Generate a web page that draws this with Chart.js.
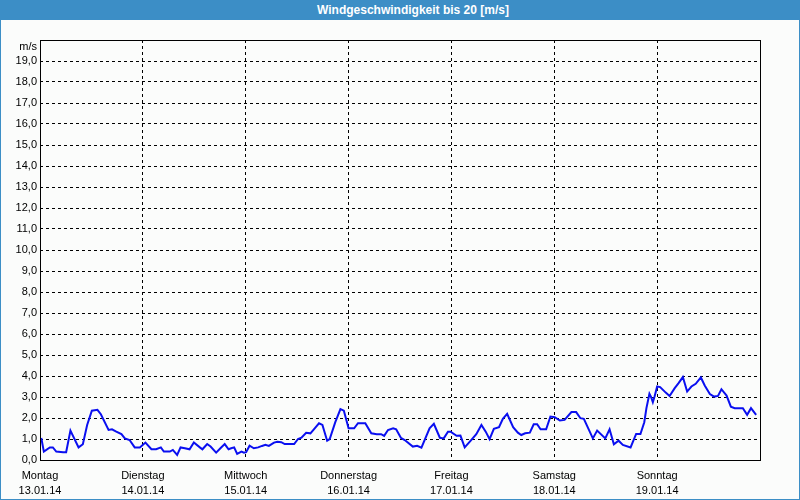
<!DOCTYPE html>
<html>
<head>
<meta charset="utf-8">
<script src="https://cdn.jsdelivr.net/npm/chart.js@4/dist/chart.umd.min.js"></script>
<style>
  body { margin: 0; background: #fff; }
  #frame {
    width: 800px; height: 500px; box-sizing: border-box;
    border: 1px solid #3c8ec6; border-top: none;
    background: #fbfcfb; position: relative;
  }
  #titlebar {
    height: 20px; margin: 0 -1px; background: #3c8ec6; color: #fff;
    font: bold 12px "Liberation Sans", Arial, sans-serif;
    line-height: 20px; text-align: center; padding-left: 26px;
  }
  #box { position: absolute; left: 0; top: 20px; width: 798px; height: 479px; }
</style>
</head>
<body>
<div id="frame">
  <div id="titlebar">Windgeschwindigkeit bis 20 [m/s]</div>
  <div id="box"><canvas id="wind-chart"></canvas></div>
</div>
<script>
// hours since Monday 13.01.14 00:00
const hours = [
  0.3, 0.9, 2.3, 3.0, 3.8, 5.4, 6.1, 7.1, 9.0, 10.0, 11.0, 12.1, 13.4, 14.2, 16.0, 16.8,
  17.8, 19.0, 19.8, 20.9, 22.1, 23.3, 24.6, 26.0, 27.1, 28.2, 28.9, 30.3, 31.0, 32.0, 32.8,
  33.8, 34.9, 35.9, 37.3, 37.9, 39.0, 39.8, 41.1, 42.1, 43.1, 44.0, 44.6, 45.3, 46.0, 47.0,
  47.6, 48.1, 48.9, 49.9, 50.9, 51.8, 52.6, 53.4, 54.6, 55.4, 56.3, 57.1, 59.3, 60.2, 61.0,
  62.1, 63.1, 64.1, 65.1, 65.9, 67.0, 67.6, 68.9, 70.1, 70.9, 72.0, 73.3, 74.2, 75.9, 77.3,
  78.6, 79.6, 80.3, 81.2, 82.4, 83.1, 84.2, 85.1, 87.0, 88.0, 89.0, 90.9, 91.9, 93.3, 94.2,
  95.2, 95.8, 97.2, 98.1, 99.1, 100.5, 101.8, 103.0, 104.0, 104.9, 105.9, 107.1, 108.0, 109.0,
  110.4, 111.5, 112.3, 113.2, 114.3, 115.2, 116.0, 116.8, 118.1, 119.1, 120.1, 121.3, 122.4,
  124.0, 125.1, 126.1, 126.9, 129.0, 130.0, 131.9, 132.9, 133.9, 135.0, 136.0, 137.8, 139.1,
  140.1, 141.0, 141.5, 142.2, 142.6, 143.0, 143.4, 144.0, 144.7, 146.0, 146.9, 148.1, 149.0,
  150.0, 151.0, 152.0, 153.0, 154.2, 155.1, 156.3, 157.3, 158.2, 159.0, 160.2, 161.2, 162.1,
  164.0, 165.0, 165.9, 167.1
];
// wind speed in m/s
const speed = [
  1.05, 0.40, 0.60, 0.60, 0.40, 0.37, 0.37, 1.40, 0.60, 0.75, 1.67, 2.35, 2.39, 2.18, 1.43, 1.46,
  1.35, 1.23, 1.03, 0.95, 0.60, 0.60, 0.83, 0.51, 0.51, 0.60, 0.40, 0.40, 0.48, 0.24, 0.60,
  0.56, 0.51, 0.83, 0.60, 0.51, 0.76, 0.64, 0.35, 0.56, 0.76, 0.51, 0.56, 0.60, 0.29, 0.40,
  0.35, 0.37, 0.68, 0.56, 0.60, 0.67, 0.72, 0.67, 0.83, 0.87, 0.85, 0.76, 0.76, 1.00, 1.06,
  1.30, 1.27, 1.51, 1.75, 1.67, 0.92, 1.00, 1.80, 2.42, 2.35, 1.51, 1.51, 1.75, 1.75, 1.27,
  1.23, 1.23, 1.15, 1.43, 1.51, 1.46, 1.06, 0.95, 0.64, 0.68, 0.59, 1.51, 1.72, 1.06, 1.03,
  1.35, 1.35, 1.15, 1.16, 0.60, 0.92, 1.23, 1.67, 1.35, 0.99, 1.48, 1.56, 1.96, 2.20,
  1.56, 1.30, 1.19, 1.27, 1.30, 1.70, 1.70, 1.46, 1.46, 2.07, 2.04, 1.88, 1.91,
  2.28, 2.28, 1.99, 1.96, 1.03, 1.40, 1.03, 1.46, 0.75, 0.92, 0.72, 0.60, 1.24,
  1.24, 1.80, 2.47, 3.15, 2.99, 2.75, 3.02, 3.50, 3.47, 3.21, 3.05, 3.42, 3.66,
  3.95, 3.26, 3.50, 3.63, 3.93, 3.55, 3.14, 3.02, 3.05, 3.37, 3.07, 2.54, 2.47,
  2.47, 2.15, 2.47, 2.15
];
const dayNames = ['Montag', 'Dienstag', 'Mittwoch', 'Donnerstag', 'Freitag', 'Samstag', 'Sonntag'];
const dayDates = ['13.01.14', '14.01.14', '15.01.14', '16.01.14', '17.01.14', '18.01.14', '19.01.14'];

const FONT = { family: '"Liberation Sans", Arial, sans-serif', size: 11 };

// solid frame round the plot plus the unit label
const framePlugin = {
  id: 'frame',
  afterDraw(chart) {
    const { ctx, chartArea: a } = chart;
    ctx.save();
    ctx.strokeStyle = '#000';
    ctx.lineWidth = 1;
    ctx.strokeRect(Math.round(a.left) + 0.5, Math.round(a.top) + 0.5,
      Math.round(a.right - a.left), Math.round(a.bottom - a.top));
    ctx.fillStyle = '#000';
    ctx.font = '11px "Liberation Sans", Arial, sans-serif';
    ctx.textAlign = 'right';
    ctx.textBaseline = 'middle';
    ctx.fillText('m/s', a.left - 3, a.top + 7);
    ctx.restore();
  }
};

new Chart(document.getElementById('wind-chart'), {
  type: 'line',
  data: {
    datasets: [{
      data: hours.map((h, i) => ({ x: h, y: speed[i] })),
      borderColor: '#0a0ff0',
      borderWidth: 2,
      pointRadius: 0,
      tension: 0,
      fill: false
    }]
  },
  options: {
    responsive: true,
    maintainAspectRatio: false,
    animation: false,
    layout: { padding: { left: 0, top: 20, right: 39, bottom: 0 } },
    plugins: { legend: { display: false }, tooltip: { enabled: false } },
    scales: {
      x: {
        type: 'linear',
        min: 0,
        max: 168,
        afterFit: s => { s.height = 39; },
        ticks: {
          stepSize: 24,
          autoSkip: false,
          maxRotation: 0,
          padding: 9,
          color: '#000',
          font: { ...FONT, lineHeight: 1.35 },
          callback: v => {
            const i = Math.round(v / 24);
            return i < 7 ? [dayNames[i], dayDates[i]] : '';
          }
        },
        grid: { color: '#000', lineWidth: 1, drawTicks: false },
        border: { display: false, dash: [3, 3] }
      },
      y: {
        min: 0,
        max: 20,
        afterFit: s => { s.width = 39; },
        ticks: {
          stepSize: 1,
          padding: 3,
          color: '#000',
          font: FONT,
          callback: v => v === 20 ? '' : v.toFixed(1).replace('.', ',')
        },
        grid: { color: '#000', lineWidth: 1, drawTicks: false },
        border: { display: false, dash: [3, 3] }
      }
    }
  },
  plugins: [framePlugin]
});
</script>
</body>
</html>
